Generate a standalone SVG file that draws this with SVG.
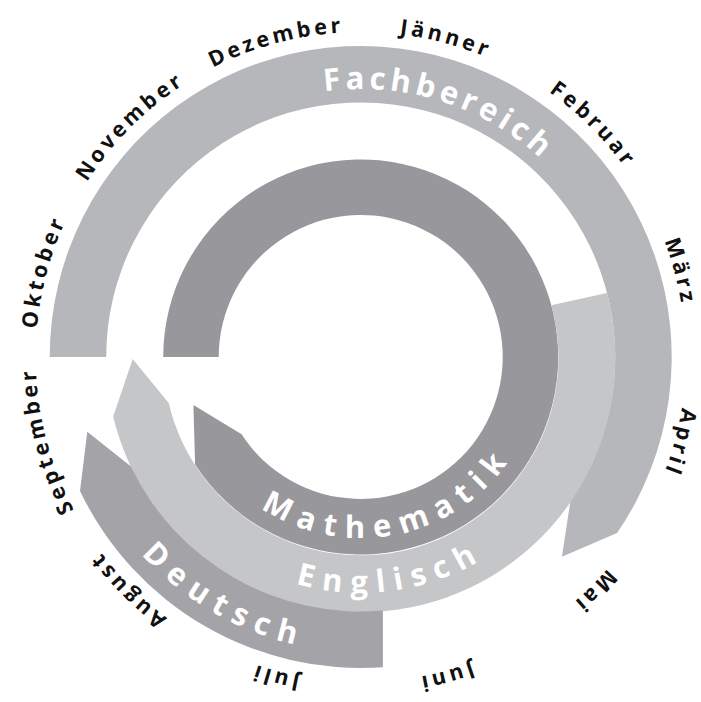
<svg xmlns="http://www.w3.org/2000/svg" xmlns:xlink="http://www.w3.org/1999/xlink" width="701" height="702" viewBox="0 0 701 702">
  <style>
    .band-label { font-family: "Open Sans", "DejaVu Sans", sans-serif; font-weight: 700; font-size: 31px; fill: #ffffff; }
    .month { font-family: "Open Sans", "DejaVu Sans", sans-serif; font-weight: 700; font-size: 21.5px; fill: #111111; letter-spacing: 3.5px; }
    .fach { fill: #b6b7ba; }
    .mathe { fill: #98979b; }
    .engl { fill: #c5c6c8; }
    .deut { fill: #a4a4a8; }
  </style>
  <rect width="701" height="702" fill="#ffffff"/>
  <defs>
    <path id="p-fach" d="M -102.1,-247.8 A 268 268 0 0 1 226.3,-143.6"/>
    <path id="p-mathe" d="M -113.2,141.3 A 181 181 0 0 0 158.8,86.9"/>
    <path id="p-engl" d="M -159.4,174.0 A 236 236 0 0 0 199.0,126.8"/>
    <path id="p-deut" d="M -277.2,100.9 A 295 295 0 0 0 51.2,290.5"/>
    <path id="p-months" d="M 0,-325 A 325 325 0 1 1 0,325 A 325 325 0 1 1 0,-325"/>
  </defs>
  <g transform="translate(360.7,357)">
    <g id="fachbereich">
      <path class="fach" d="M -254.5,0 L -311,0 A 311 311 0 1 1 256.3,176.1 L 201.2,199.8 L 209.7,144.1 A 254.5 254.5 0 1 0 -254.5,0 Z"/>
      <text class="band-label" letter-spacing="4.5" text-anchor="middle"><textPath xlink:href="#p-fach" href="#p-fach" startOffset="50%">Fachbereich</textPath></text>
    </g>
    <g id="mathematik">
      <path class="mathe" d="M -142,0 L -197.5,0 A 197.5 197.5 0 1 1 -165.6,107.6 L -167.3,48 L -119.1,77.3 A 142 142 0 1 0 -142,0 Z"/>
      <text class="band-label" letter-spacing="9.5" text-anchor="middle"><textPath xlink:href="#p-mathe" href="#p-mathe" startOffset="50.5%">Mathematik</textPath></text>
    </g>
    <g id="englisch">
      <path class="engl" d="M 190.6,-51.8 L 246.3,-63.9 A 254.5 254.5 0 1 1 -247.5,59.4 L -228,2 L -192,46.1 A 197.5 197.5 0 1 0 190.6,-51.8 Z"/>
      <text class="band-label" letter-spacing="9" text-anchor="middle"><textPath xlink:href="#p-engl" href="#p-engl" startOffset="50.5%">Englisch</textPath></text>
    </g>
    <g id="deutsch">
      <path class="deut" d="M 22.2,253.5 L 22.2,310.2 A 311 311 0 0 1 -280.7,133.9 L -273.4,74.8 L -229.7,109.6 A 254.5 254.5 0 0 0 22.2,253.5 Z"/>
      <text class="band-label" letter-spacing="9" text-anchor="middle"><textPath xlink:href="#p-deut" href="#p-deut" startOffset="50.5%">Deutsch</textPath></text>
    </g>
    <g id="months">
      <text class="month" text-anchor="middle"><textPath xlink:href="#p-months" href="#p-months" startOffset="4.1667%">Jänner</textPath></text>
      <text class="month" text-anchor="middle"><textPath xlink:href="#p-months" href="#p-months" startOffset="12.5%">Februar</textPath></text>
      <text class="month" text-anchor="middle"><textPath xlink:href="#p-months" href="#p-months" startOffset="20.8333%">März</textPath></text>
      <text class="month" text-anchor="middle"><textPath xlink:href="#p-months" href="#p-months" startOffset="29.1667%">April</textPath></text>
      <text class="month" text-anchor="middle"><textPath xlink:href="#p-months" href="#p-months" startOffset="37.5%">Mai</textPath></text>
      <text class="month" text-anchor="middle"><textPath xlink:href="#p-months" href="#p-months" startOffset="45.8333%">Juni</textPath></text>
      <text class="month" text-anchor="middle"><textPath xlink:href="#p-months" href="#p-months" startOffset="54.1667%">Juli</textPath></text>
      <text class="month" text-anchor="middle"><textPath xlink:href="#p-months" href="#p-months" startOffset="62.5%">August</textPath></text>
      <text class="month" text-anchor="middle"><textPath xlink:href="#p-months" href="#p-months" startOffset="70.8333%">September</textPath></text>
      <text class="month" text-anchor="middle"><textPath xlink:href="#p-months" href="#p-months" startOffset="79.1667%">Oktober</textPath></text>
      <text class="month" text-anchor="middle"><textPath xlink:href="#p-months" href="#p-months" startOffset="87.5%">November</textPath></text>
      <text class="month" text-anchor="middle"><textPath xlink:href="#p-months" href="#p-months" startOffset="95.8333%">Dezember</textPath></text>
    </g>
  </g>
</svg>
